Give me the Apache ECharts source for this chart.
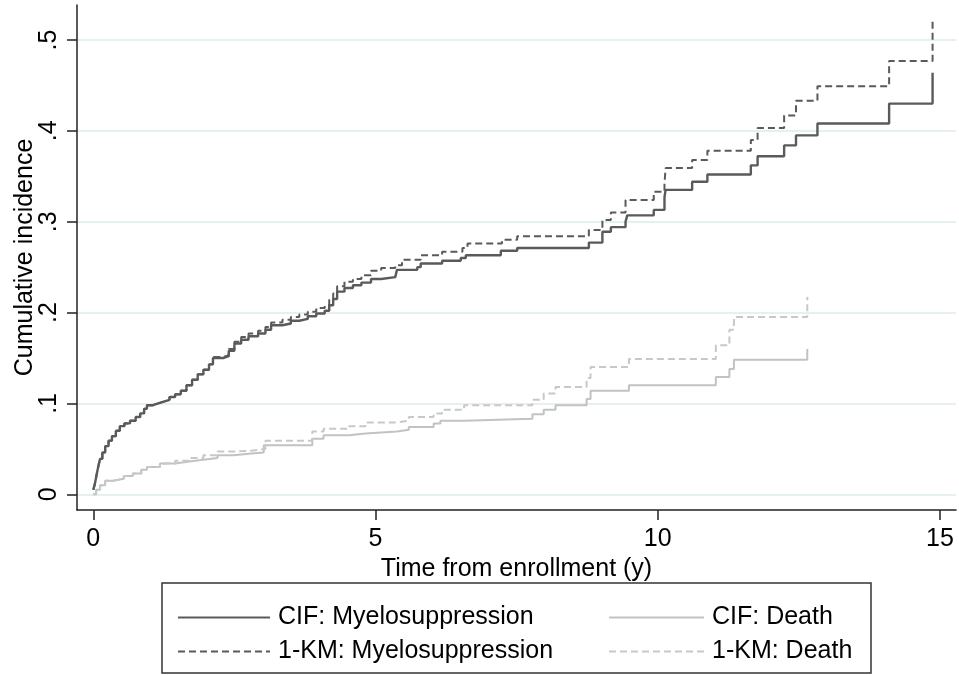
<!DOCTYPE html>
<html>
<head>
<meta charset="utf-8">
<title>Cumulative incidence</title>
<script src="https://cdn.jsdelivr.net/npm/echarts@6/dist/echarts.min.js"></script>
<style>
  html, body { margin: 0; padding: 0; background: #fff; }
  #chart { width: 959px; height: 675px; }
</style>
</head>
<body>
<div id="chart"></div>
<script>
// Event times (years) and estimated cumulative incidence after each step
const myeloTimes = [0, 0.03, 0.06, 0.09, 0.12, 0.16, 0.21, 0.27, 0.33, 0.40, 0.47, 0.55, 0.65, 0.75, 0.83, 0.90, 0.95,
  1.05, 1.15, 1.25, 1.35, 1.45, 1.55, 1.65, 1.75, 1.85, 1.95, 2.05, 2.12, 2.30, 2.40, 2.50, 2.62, 2.75, 2.92,
  3.05, 3.15, 3.35, 3.50, 3.65, 3.80, 3.95, 4.10, 4.18, 4.25, 4.32, 4.45, 4.60, 4.75, 4.92, 5.10, 5.35, 5.38,
  5.74, 5.80, 6.18, 6.51, 6.60, 7.22, 7.51, 8.78, 9.02, 9.17, 9.43, 9.46, 9.93, 10.12, 10.14, 10.61, 10.88,
  11.65, 11.77, 12.24, 12.45, 12.83, 14.10, 14.87];
const myeloCif = [0.005, 0.012, 0.022, 0.031, 0.039, 0.046, 0.053, 0.059, 0.064, 0.070, 0.075, 0.078, 0.081, 0.085, 0.089, 0.094, 0.098,
  0.100, 0.102, 0.104, 0.107, 0.110, 0.114, 0.120, 0.126, 0.132, 0.137, 0.143, 0.150, 0.152, 0.158, 0.166, 0.170, 0.174, 0.177,
  0.181, 0.186, 0.188, 0.191, 0.193, 0.196, 0.199, 0.202, 0.208, 0.215, 0.223, 0.227, 0.230, 0.233, 0.237, 0.239, 0.241, 0.247,
  0.250, 0.254, 0.257, 0.260, 0.263, 0.268, 0.271, 0.277, 0.289, 0.294, 0.300, 0.307, 0.313, 0.327, 0.335, 0.344, 0.352,
  0.362, 0.372, 0.384, 0.395, 0.408, 0.430, 0.464];

const myeloKmTimes = [0, 0.03, 0.06, 0.09, 0.12, 0.16, 0.21, 0.27, 0.33, 0.40, 0.47, 0.55, 0.65, 0.75, 0.83, 0.90, 0.95,
  1.05, 1.15, 1.25, 1.35, 1.45, 1.55, 1.65, 1.75, 1.85, 1.95, 2.05, 2.12, 2.30, 2.40, 2.50, 2.62, 2.75, 2.92,
  3.05, 3.15, 3.35, 3.50, 3.65, 3.80, 3.95, 4.10, 4.18, 4.25, 4.32, 4.45, 4.60, 4.75, 4.92, 5.10, 5.35, 5.47,
  5.80, 6.18, 6.54, 6.63, 7.24, 7.51, 8.78, 9.02, 9.17, 9.43, 9.93, 10.12, 10.14, 10.61, 10.88,
  11.65, 11.77, 12.24, 12.45, 12.83, 14.10, 14.87];
const myeloKm = [0.005, 0.012, 0.022, 0.031, 0.039, 0.046, 0.053, 0.059, 0.064, 0.070, 0.075, 0.078, 0.081, 0.085, 0.089, 0.094, 0.098,
  0.100, 0.102, 0.104, 0.107, 0.110, 0.114, 0.120, 0.126, 0.132, 0.137, 0.143, 0.151, 0.153, 0.160, 0.168, 0.173, 0.177, 0.180,
  0.184, 0.189, 0.192, 0.195, 0.198, 0.201, 0.205, 0.208, 0.214, 0.221, 0.229, 0.234, 0.237, 0.241, 0.246, 0.249, 0.252, 0.258,
  0.263, 0.267, 0.271, 0.276, 0.280, 0.284, 0.291, 0.302, 0.310, 0.324, 0.333, 0.342, 0.359, 0.368, 0.378,
  0.390, 0.403, 0.417, 0.433, 0.449, 0.477, 0.520];

const deathTimes = [0, 0.05, 0.12, 0.21, 0.35, 0.54, 0.70, 0.85, 0.95, 1.18, 1.45, 1.70, 1.95, 2.20, 2.48, 2.80,
  3.02, 3.88, 4.08, 4.53, 4.82, 5.38, 5.59, 6.03, 6.15, 6.57, 7.78, 7.98, 8.19, 8.74, 8.81, 9.49,
  11.03, 11.27, 11.35, 12.65];
const deathCif = [0, 0.005, 0.010, 0.015, 0.017, 0.020, 0.023, 0.027, 0.030, 0.034, 0.036, 0.038, 0.040, 0.043, 0.045, 0.046,
  0.054, 0.061, 0.065, 0.067, 0.069, 0.071, 0.074, 0.078, 0.081, 0.083, 0.088, 0.093, 0.098, 0.105, 0.114, 0.120,
  0.129, 0.138, 0.148, 0.160];

const deathKmTimes = [0, 0.05, 0.12, 0.21, 0.35, 0.54, 0.70, 0.85, 0.95, 1.18, 1.45, 1.70, 1.95, 2.20, 2.48, 2.80,
  3.05, 3.88, 4.08, 4.53, 4.82, 5.38, 5.59, 6.03, 6.18, 6.57, 7.78, 7.98, 8.19, 8.74, 8.81, 9.49,
  11.03, 11.27, 11.35, 12.65];
const deathKm = [0, 0.005, 0.010, 0.015, 0.017, 0.020, 0.023, 0.027, 0.030, 0.034, 0.037, 0.040, 0.043, 0.047, 0.048, 0.050,
  0.059, 0.069, 0.072, 0.075, 0.079, 0.081, 0.085, 0.089, 0.093, 0.098, 0.104, 0.111, 0.118, 0.128, 0.140, 0.149,
  0.164, 0.181, 0.195, 0.217];

// Axis ticks
const xTicks = [0, 5, 10, 15];
const yTicks = [0, 0.1, 0.2, 0.3, 0.4, 0.5];
const yTickLabels = ['0', '.1', '.2', '.3', '.4', '.5'];

const seriesNames = ['CIF: Myelosuppression', '1-KM: Myelosuppression', 'CIF: Death', '1-KM: Death'];

const pairs = (ts, vs) => ts.map((t, i) => [t, vs[i]]);

const FONT = "'Liberation Sans', Arial, Helvetica, sans-serif";
const FS = 25;
const DARK = '#5a5a5a';
const LIGHT = '#c2c2c2';
const LIGHT_DASH = '#c8c8c8';

const chart = echarts.init(document.getElementById('chart'), null, { renderer: 'canvas' });

const yLabelMap = {};
yTicks.forEach((v, i) => { yLabelMap[v.toFixed(1)] = yTickLabels[i]; });

const legendBase = {
  orient: 'vertical', top: 600,
  itemWidth: 92, itemHeight: 14, itemGap: 9,
  selectedMode: false,
  itemStyle: { opacity: 0 },
  textStyle: { fontSize: FS, color: '#000', fontFamily: FONT, padding: [0, 0, 0, 3] }
};

const option = {
  backgroundColor: '#fff',
  animation: false,
  textStyle: { fontFamily: FONT },
  grid: { left: 77, right: 3, top: 5, bottom: 165, containLabel: false, outerBoundsMode: 'none' },
  xAxis: {
    type: 'value',
    min: -0.289,
    max: 15.285,
    name: 'Time from enrollment (y)',
    nameLocation: 'middle',
    nameGap: 47,
    nameMoveOverlap: false,
    nameTextStyle: { fontSize: FS, color: '#000', fontFamily: FONT },
    axisLine: { show: true, onZero: false, lineStyle: { color: '#222', width: 1.5 } },
    axisTick: { show: true, length: 10, customValues: xTicks, lineStyle: { color: '#222', width: 1.5 } },
    axisLabel: { show: true, customValues: xTicks, fontSize: FS, color: '#000', margin: 17, fontFamily: FONT },
    splitLine: { show: false }
  },
  yAxis: {
    type: 'value',
    min: -0.0173,
    max: 0.5385,
    name: 'Cumulative incidence',
    nameLocation: 'middle',
    nameGap: 39,
    nameMoveOverlap: false,
    nameRotate: 90,
    nameTextStyle: { fontSize: FS, color: '#000', fontFamily: FONT },
    axisLine: { show: true, onZero: false, lineStyle: { color: '#222', width: 1.5 } },
    axisTick: { show: true, length: 10, customValues: yTicks, lineStyle: { color: '#222', width: 1.5 } },
    axisLabel: {
      show: true, customValues: yTicks, rotate: 90, fontSize: FS, color: '#000', margin: 15, fontFamily: FONT,
      formatter: v => yLabelMap[Number(v).toFixed(1)] ?? ''
    },
    splitLine: { show: true, lineStyle: { color: '#e6eff2', width: 2 } }
  },
  legend: [
    Object.assign({}, legendBase, { data: [seriesNames[0], seriesNames[1]], left: 172 }),
    Object.assign({}, legendBase, { data: [seriesNames[2], seriesNames[3]], left: 603, itemWidth: 95 })
  ],
  graphic: [
    {
      type: 'rect',
      shape: { x: 162, y: 583, width: 709, height: 90 },
      style: { fill: 'none', stroke: '#333', lineWidth: 1.5 },
      silent: true
    }
  ],
  series: [
    {
      name: seriesNames[2], type: 'line', step: 'end', symbol: 'none',
      data: pairs(deathTimes, deathCif),
      lineStyle: { color: LIGHT, width: 2 }, itemStyle: { color: LIGHT }, z: 2
    },
    {
      name: seriesNames[3], type: 'line', step: 'end', symbol: 'none',
      data: pairs(deathKmTimes, deathKm),
      lineStyle: { color: LIGHT_DASH, width: 2, type: [7, 4] }, itemStyle: { color: LIGHT_DASH }, z: 2
    },
    {
      name: seriesNames[0], type: 'line', step: 'end', symbol: 'none',
      data: pairs(myeloTimes, myeloCif),
      lineStyle: { color: DARK, width: 2.4 }, itemStyle: { color: DARK }, z: 3
    },
    {
      name: seriesNames[1], type: 'line', step: 'end', symbol: 'none',
      data: pairs(myeloKmTimes, myeloKm),
      lineStyle: { color: DARK, width: 2, type: [7, 4] }, itemStyle: { color: DARK }, z: 3
    }
  ]
};

chart.setOption(option);
</script>
</body>
</html>
